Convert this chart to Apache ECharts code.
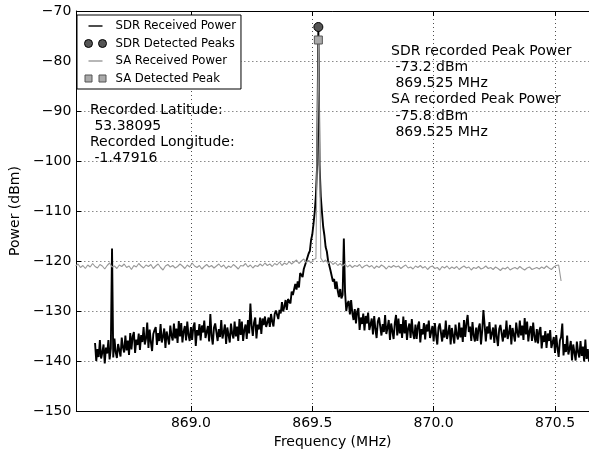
<!DOCTYPE html>
<html>
<head>
<meta charset="utf-8">
<script src="https://cdn.jsdelivr.net/npm/echarts@6/dist/echarts.min.js"></script>
<style>
  html, body { margin: 0; padding: 0; background: #fff; }
  #chart { width: 589px; height: 457px; }
</style>
</head>
<body>
<div id="chart"></div>
<script>
// SDR spectrum: first bin + bin width (MHz), powers in dBm
const sdrStart = 868.605;
const sdrStep = 0.005;
const sdrPower = [
  -136.4, -140.0, -137.6, -139.2, -135.8, -139.5, -138.3, -136.7, -140.5, -137.3,
  -138.5, -135.8, -139.7, -137.5, -117.5, -139.3, -135.5, -138.2, -139.4, -136.6,
  -136.2, -139.1, -135.3, -137.3, -138.3, -134.9, -137.9, -135.9, -138.8, -134.4,
  -137.7, -135.1, -134.2, -138.4, -135.7, -136.8, -134.5, -137.8, -134.8, -136.2,
  -133.2, -136.7, -135.5, -132.3, -137.4, -133.7, -136.2, -138.0, -134.6, -133.8,
  -133.2, -136.8, -134.4, -136.0, -132.6, -136.3, -135.1, -133.5, -137.4, -134.1,
  -133.8, -136.7, -132.9, -134.9, -135.9, -132.5, -135.5, -133.5, -136.4, -132.0,
  -135.1, -132.4, -136.3, -134.1, -133.0, -135.9, -132.1, -134.8, -136.0, -133.2,
  -135.8, -133.2, -132.3, -137.0, -133.8, -134.9, -132.6, -135.9, -132.9, -134.3,
  -131.9, -135.4, -134.2, -133.0, -136.1, -130.6, -134.9, -136.7, -133.3, -132.5,
  -132.4, -136.0, -133.6, -135.2, -131.8, -135.5, -134.3, -132.7, -136.6, -133.3,
  -133.4, -136.3, -132.5, -134.5, -135.5, -132.1, -135.1, -133.1, -136.0, -131.6,
  -134.8, -132.1, -136.0, -133.8, -132.7, -135.6, -131.8, -134.5, -128.5, -132.9,
  -135.0, -132.3, -131.3, -135.5, -132.7, -133.7, -131.3, -134.6, -131.5, -132.8,
  -131.1, -133.2, -132.3, -131.3, -133.2, -130.6, -132.1, -133.1, -130.6, -129.9,
  -129.7, -131.6, -129.8, -130.5, -128.2, -130.1, -129.1, -127.8, -129.8, -127.6,
  -127.4, -128.5, -126.1, -126.8, -126.9, -124.6, -125.7, -124.1, -125.3, -122.4,
  -122.7, -123.2, -121.6, -121.7, -120.1, -120.0, -118.5, -118.0, -115.8, -114.7,
  -112.6, -110.2, -106.8, -100.8, -73.2,
  -100.8, -107.1, -110.3, -113.2, -114.9, -117.2, -118.1, -119.9, -120.2, -121.9,
  -121.7, -124.1, -123.6, -125.6, -124.1, -126.0, -127.2, -125.6, -127.5, -126.8,
  -115.5, -126.2, -130.0, -128.5, -128.0, -130.7, -127.8, -130.4, -131.8, -129.6,
  -132.5, -130.1, -129.4, -133.8, -131.3, -132.6, -130.5, -133.9, -131.0, -132.5,
  -130.3, -133.8, -132.7, -131.5, -134.7, -131.0, -133.6, -135.4, -132.1, -131.3,
  -131.3, -134.9, -132.6, -134.2, -130.8, -134.6, -133.4, -131.8, -135.8, -132.5,
  -132.7, -135.6, -132.4, -130.8, -134.9, -131.5, -134.5, -132.6, -135.4, -131.1,
  -134.5, -131.8, -135.8, -133.5, -132.5, -135.4, -131.6, -134.4, -135.6, -132.7,
  -135.6, -133.0, -132.1, -136.3, -133.6, -134.7, -132.4, -135.7, -132.7, -134.1,
  -131.9, -135.4, -134.2, -133.0, -136.1, -132.4, -134.9, -136.7, -133.3, -132.5,
  -132.5, -136.1, -133.7, -135.3, -131.9, -135.6, -134.4, -132.8, -136.7, -133.4,
  -133.6, -136.5, -132.7, -134.7, -135.7, -132.3, -135.3, -133.3, -136.2, -131.8,
  -135.2, -132.5, -130.8, -134.2, -133.1, -136.0, -132.2, -134.9, -136.1, -133.3,
  -136.0, -133.4, -132.5, -136.7, -134.0, -129.8, -132.8, -136.1, -133.1, -134.5,
  -132.2, -135.7, -134.5, -133.3, -136.4, -132.7, -135.2, -137.0, -133.6, -132.8,
  -132.5, -136.1, -133.7, -135.3, -131.9, -135.6, -134.4, -132.8, -136.7, -133.4,
  -133.2, -136.1, -132.3, -134.3, -135.3, -131.9, -134.9, -132.9, -135.8, -131.4,
  -134.7, -132.1, -136.1, -134.0, -133.0, -136.0, -132.3, -135.1, -136.3, -133.6,
  -136.5, -134.0, -133.2, -137.5, -134.9, -136.2, -134.0, -137.4, -134.5, -136.0,
  -133.8, -137.4, -136.3, -135.2, -138.4, -134.8, -137.3, -139.2, -135.9, -135.2,
  -132.5, -138.9, -136.6, -138.2, -134.9, -138.7, -137.5, -136.0, -139.9, -136.7,
  -136.9, -139.9, -136.1, -138.2, -139.3, -136.0, -139.0, -137.1, -140.1, -135.7,
  -139.6, -137.6, -140.1
];

// spectrum analyser trace
const saStart = 868.525;
const saStep = 0.01;
const saPower = [
  -121.0, -120.6, -121.3, -120.9, -121.5, -120.8, -121.2, -120.5, -121.1, -121.4,
  -120.7, -121.0, -121.6, -120.9, -120.4, -121.2, -121.0, -121.5, -120.8, -121.1,
  -120.6, -121.3, -121.0, -121.7, -120.9, -121.2, -120.5, -121.0, -121.4, -120.8,
  -121.1, -120.7, -121.5, -121.0, -120.6, -121.3, -121.8, -121.0, -120.7, -121.2,
  -120.9, -121.4, -121.1, -120.6, -121.0, -121.5, -120.8, -121.2, -120.4, -121.0,
  -121.3, -120.9, -121.6, -121.1, -120.7, -121.2, -120.9, -121.4, -121.0, -120.6,
  -121.2, -120.8, -121.5, -121.0, -121.3, -120.7, -121.1, -121.6, -120.9, -121.0,
  -120.5, -121.2, -120.8, -121.4, -120.9, -121.1, -120.6, -121.0, -120.4, -120.9,
  -120.6, -121.1, -120.5, -120.8, -120.2, -120.9, -120.4, -120.7, -120.1, -120.6,
  -120.2, -119.8, -120.5, -120.0, -119.6, -120.3, -119.9, -120.4, -119.7, -119.5,
  -75.8,
  -119.4, -120.2, -119.8, -120.5, -120.1, -120.7, -120.3, -120.9, -120.5, -121.0,
  -120.6, -121.2, -120.8, -121.3, -120.9, -121.1, -120.7, -121.4, -121.0, -120.8,
  -121.2, -120.9, -121.5, -121.0, -121.3, -120.8, -121.1, -121.6, -121.0, -121.3,
  -120.9, -121.2, -121.0, -121.5, -121.1, -120.8, -121.4, -121.2, -121.6, -121.0,
  -121.3, -120.9, -121.4, -121.1, -121.7, -121.2, -121.0, -121.5, -121.3, -121.8,
  -121.1, -121.4, -121.0, -121.6, -121.2, -121.5, -121.1, -121.7, -121.3, -121.0,
  -121.4, -121.2, -121.8, -121.3, -121.5, -121.1, -121.6, -121.4, -121.0, -121.5,
  -121.3, -121.7, -121.2, -121.5, -121.9, -121.4, -121.6, -121.2, -121.8, -121.5,
  -121.3, -121.6, -121.1, -121.5, -121.8, -121.4, -121.2, -121.7, -121.5, -121.3,
  -121.6, -121.2, -121.5, -121.0, -121.4, -121.7, -121.2, -120.9, -120.8, -124.0
];

// detected peaks
const sdrPeak = [869.525, -73.2];
const saPeak = [869.525, -75.8];
const latitude = '53.38095';
const longitude = '-1.47916';

const yTicks = { min: -150, max: -70, step: 10 };

const sdrData = sdrPower.map((p, i) => [+(sdrStart + i * sdrStep).toFixed(3), p]);
const saData = saPower.map((p, i) => [+(saStart + i * saStep).toFixed(3), p]);

const font = 'DejaVu Sans';
const gridLine = { color: '#000', width: 0.7, type: [1, 3] };

// legend icons, all drawn in a 22x12 box
const icLine = 'path://M0,0 M22,12 M4,5.3 L18,5.3 L18,6.7 L4,6.7 Z';
const icCircles = 'path://M0,0 M22,12 M0,6 A4,4 0 1,1 8,6 A4,4 0 1,1 0,6 Z M14,6 A4,4 0 1,1 22,6 A4,4 0 1,1 14,6 Z';
const icSquares = 'path://M0,0 M22,12 M0.5,2.5 L7.5,2.5 L7.5,9.5 L0.5,9.5 Z M14.5,2.5 L21.5,2.5 L21.5,9.5 L14.5,9.5 Z';

const chart = echarts.init(document.getElementById('chart'));
chart.setOption({
  animation: false,
  backgroundColor: '#fff',
  textStyle: { fontFamily: font, color: '#000' },
  grid: { left: 72, right: -1, top: 11, bottom: 46 },
  xAxis: [{
    type: 'value',
    min: 868.528,
    max: 870.640,
    minInterval: 0.5,
    maxInterval: 0.5,
    name: 'Frequency (MHz)',
    nameLocation: 'middle',
    nameGap: 21,
    nameTextStyle: { fontSize: 14, color: '#000' },
    axisLine: { show: true, onZero: false, lineStyle: { color: '#000', width: 1 } },
    axisTick: { show: true, inside: true, length: 5, lineStyle: { color: '#000' } },
    axisLabel: {
      fontSize: 14, color: '#000', margin: 5,
      showMinLabel: false, showMaxLabel: false,
      formatter: v => v.toFixed(1)
    },
    splitLine: { show: true, lineStyle: gridLine }
  }, {
    type: 'value',
    position: 'top',
    min: 868.528,
    max: 870.640,
    minInterval: 0.5,
    maxInterval: 0.5,
    axisLine: { show: true, onZero: false, lineStyle: { color: '#000', width: 1 } },
    axisTick: { show: true, inside: true, length: 5, lineStyle: { color: '#000' } },
    axisLabel: { show: false },
    splitLine: { show: false }
  }],
  yAxis: {
    type: 'value',
    min: yTicks.min,
    max: yTicks.max,
    interval: yTicks.step,
    name: 'Power (dBm)',
    nameLocation: 'middle',
    nameGap: 50,
    nameTextStyle: { fontSize: 14, color: '#000' },
    axisLine: { show: true, onZero: false, lineStyle: { color: '#000', width: 1 } },
    axisTick: { show: true, inside: true, length: 5, lineStyle: { color: '#000' } },
    axisLabel: {
      fontSize: 14, color: '#000', margin: 5,
      formatter: v => (v < 0 ? '\u2212' : '') + Math.abs(v)
    },
    splitLine: { show: true, lineStyle: gridLine }
  },
  legend: {
    orient: 'vertical',
    left: 77,
    top: 15,
    padding: [5, 5, 4, 7],
    itemWidth: 22,
    itemHeight: 12,
    itemGap: 5,
    selectedMode: false,
    backgroundColor: '#fff',
    borderColor: '#000',
    borderWidth: 1,
    textStyle: { fontSize: 11.7, color: '#000', fontFamily: font, lineHeight: 12, padding: [0, 0, 0, 4] },
    data: [
      { name: 'SDR Received Power', icon: icLine, itemStyle: { color: '#000', borderWidth: 0 } },
      { name: 'SDR Detected Peaks', icon: icCircles, itemStyle: { color: '#555', borderColor: '#000', borderWidth: 1 } },
      { name: 'SA Received Power', icon: icLine, itemStyle: { color: '#999', borderWidth: 0 } },
      { name: 'SA Detected Peak', icon: icSquares, itemStyle: { color: '#aaa', borderColor: '#555', borderWidth: 1 } }
    ]
  },
  graphic: [{
    type: 'text',
    left: 90,
    top: 103,
    style: {
      text: 'Recorded Latitude:\n ' + latitude + '\nRecorded Longitude:\n ' + longitude,
      font: '14px "DejaVu Sans"',
      lineHeight: 15.7,
      fill: '#000'
    }
  }, {
    type: 'text',
    left: 391,
    top: 43,
    style: {
      text: 'SDR recorded Peak Power\n ' + sdrPeak[1] + ' dBm\n ' + sdrPeak[0].toFixed(3) + ' MHz\n' +
            'SA recorded Peak Power\n ' + saPeak[1] + ' dBm\n ' + saPeak[0].toFixed(3) + ' MHz',
      font: '14px "DejaVu Sans"',
      lineHeight: 16.2,
      fill: '#000'
    }
  }],
  series: [{
    name: 'SDR Received Power',
    type: 'line',
    data: sdrData,
    showSymbol: false,
    symbol: 'none',
    lineStyle: { color: '#000', width: 1.9 },
    itemStyle: { color: '#000' },
    z: 2
  }, {
    name: 'SDR Detected Peaks',
    type: 'scatter',
    data: [sdrPeak],
    symbol: 'circle',
    symbolSize: 9,
    itemStyle: { color: '#555', borderColor: '#000', borderWidth: 1, opacity: 1 },
    z: 5
  }, {
    name: 'SA Received Power',
    type: 'line',
    data: saData,
    showSymbol: false,
    symbol: 'none',
    lineStyle: { color: '#999', width: 1.1 },
    itemStyle: { color: '#999' },
    z: 3
  }, {
    name: 'SA Detected Peak',
    type: 'scatter',
    data: [saPeak],
    symbol: 'rect',
    symbolSize: 8,
    itemStyle: { color: '#aaa', borderColor: '#555', borderWidth: 1, opacity: 1 },
    z: 6
  }]
});
</script>
</body>
</html>
